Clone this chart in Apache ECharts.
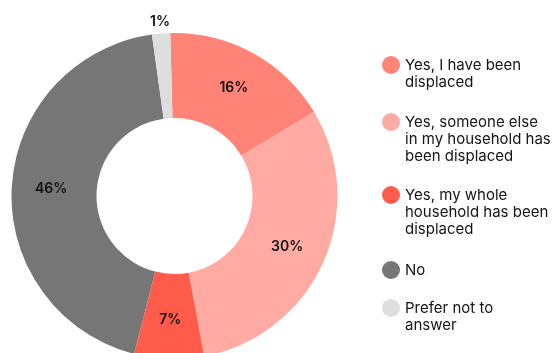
<!DOCTYPE html>
<html>
<head>
<meta charset="utf-8">
<script src="https://cdn.jsdelivr.net/npm/echarts@6/dist/echarts.min.js"></script>
<style>
html, body { margin: 0; padding: 0; background: #fff; }
#main { width: 559px; height: 353px; }
</style>
</head>
<body>
<div id="main"></div>
<script>
// answer categories (legend text, wrapped as in the picture)
var categories = [
  'Yes, I have been\ndisplaced',
  'Yes, someone else\nin my household has\nbeen displaced',
  'Yes, my whole\nhousehold has been\ndisplaced',
  'No',
  'Prefer not to\nanswer'
];
// slice sizes as drawn (measured from the arcs)
var shares = [16.8, 30.7, 6.9, 43.8, 1.8];
// percentages printed on the slices
var shareLabels = ['16%', '30%', '7%', '46%', '1%'];
var colors = ['#ff8477', '#ffaba4', '#ff5c4b', '#767676', '#dedede'];

// legend layout
var legendIconY = [65, 122, 195, 270, 308];
var lineH = 17;
var legendText = { fontFamily: 'Inter', fontSize: 15, lineHeight: lineH, color: '#141414' };

var legends = categories.map(function (name, i) {
  var n = name.split('\n').length;
  var boxH = Math.max((2 * n - 1) * lineH, 18);
  return {
    orient: 'vertical',
    left: 382,
    top: legendIconY[i] - boxH / 2,
    padding: 0,
    itemWidth: 18,
    itemHeight: 18,
    icon: 'circle',
    selectedMode: false,
    textStyle: legendText,
    // blank lines above so the first text line sits beside the dot
    formatter: function (nm) {
      var k = nm.split('\n').length;
      return new Array(k).join('\n') + nm;
    },
    data: [name]
  };
});

var pieData = categories.map(function (name, i) {
  var item = { name: name, value: shares[i], itemStyle: { color: colors[i] } };
  if (i === 4) {
    // the tiny slice gets its label outside, above the ring
    item.label = { position: 'outside', distanceToLabelLine: -10 };
    item.labelLine = { show: false, length: 12, length2: 0 };
  }
  return item;
});

var myChart = echarts.init(document.getElementById('main'));
myChart.setOption({
  animation: false,
  legend: legends,
  series: [{
    type: 'pie',
    center: [174.5, 196],
    radius: [78, 163],
    startAngle: 91.5,
    clockwise: true,
    avoidLabelOverlap: false,
    itemStyle: { borderWidth: 0 },
    emphasis: { disabled: true },
    label: {
      show: true,
      position: 'inside',
      fontFamily: 'Inter',
      fontSize: 14,
      fontWeight: 600,
      color: '#111',
      formatter: function (p) { return shareLabels[p.dataIndex]; }
    },
    labelLine: { show: false },
    data: pieData
  }]
});
</script>
</body>
</html>
